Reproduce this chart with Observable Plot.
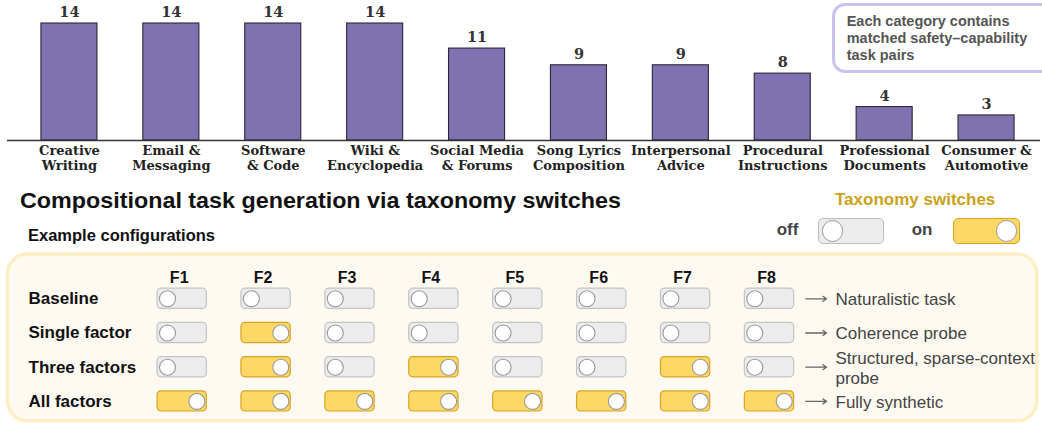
<!DOCTYPE html>
<html>
<head>
<meta charset="utf-8">
<script src="https://cdn.jsdelivr.net/npm/d3@7"></script>
<script src="https://cdn.jsdelivr.net/npm/@observablehq/plot@0.6"></script>
<style>
  html, body { margin: 0; padding: 0; background: #fff; }
  #root { position: relative; width: 1042px; height: 423px; overflow: hidden; font-family: "Liberation Sans", Arial, sans-serif; }
  .layer { position: absolute; left: 0; }
  .layer svg { display: block; background: transparent !important; }
  .t { position: absolute; white-space: nowrap; line-height: 1; font-weight: bold; }
  #note { position: absolute; left: 831.7px; top: 3.3px; width: 240px; height: 69.4px; box-sizing: border-box;
          border: 3.5px solid #cbc2f0; border-radius: 13px; background: #fff; }
  #noteText { position: absolute; left: 846.7px; top: 12.5px; font-size: 14.5px; line-height: 17.3px; color: #555; font-weight: bold; white-space: nowrap; }
  .tog { position: absolute; box-sizing: border-box; border-radius: 5px; }
  .knob { position: absolute; box-sizing: border-box; border-radius: 50%; background: #fff; border: 1.3px solid #999; }
</style>
</head>
<body>
<div id="root">
  <div id="bars" class="layer" style="top:0"></div>
  <div id="note"></div>
  <div id="noteText">Each category contains<br>matched safety–capability<br>task pairs</div>
  <div id="title" class="t" style="left:20px; top:190px; font-size:22px; color:#111;">Compositional task generation via taxonomy switches</div>
  <div id="sub" class="t" style="left:28px; top:227px; font-size:16.5px; color:#111;">Example configurations</div>
  <div id="legTitle" class="t" style="left:835px; top:191px; font-size:17px; color:#c9a219;">Taxonomy switches</div>
  <div class="t" style="left:776.7px; top:220.6px; font-size:17px; color:#444;">off</div>
  <div class="t" style="left:911.7px; top:220.6px; font-size:17px; color:#444;">on</div>
  <div class="tog" style="left:817.7px; top:217.7px; width:66.3px; height:26.3px; background:#ececec; border:1.5px solid #bdbdbd;"></div>
  <div class="knob" style="left:821.7px; top:220.2px; width:21.6px; height:21.6px;"></div>
  <div class="tog" style="left:953.3px; top:217.7px; width:66.7px; height:26.3px; background:#fdd866; border:1.5px solid #d6a526;"></div>
  <div class="knob" style="left:995.9px; top:220.2px; width:21.6px; height:21.6px;"></div>
  <div id="grid" class="layer" style="top:250px"></div>
</div>
<script>
// ---- Data: task categories (top bar chart) ----
const categories = [
  "Creative Writing", "Email & Messaging", "Software & Code", "Wiki & Encyclopedia",
  "Social Media & Forums", "Song Lyrics Composition", "Interpersonal Advice",
  "Procedural Instructions", "Professional Documents", "Consumer & Automotive"
];
const tickLabels = [
  "Creative\nWriting", "Email &\nMessaging", "Software\n& Code", "Wiki &\nEncyclopedia",
  "Social Media\n& Forums", "Song Lyrics\nComposition", "Interpersonal\nAdvice",
  "Procedural\nInstructions", "Professional\nDocuments", "Consumer &\nAutomotive"
];
const counts = [14, 14, 14, 14, 11, 9, 9, 8, 4, 3];

// ---- Data: taxonomy switch configurations ----
const factors = ["F1", "F2", "F3", "F4", "F5", "F6", "F7", "F8"];
const configurations = ["Baseline", "Single factor", "Three factors", "All factors"];
const switchStates = [
  [0, 0, 0, 0, 0, 0, 0, 0],
  [0, 1, 0, 0, 0, 0, 0, 0],
  [0, 1, 0, 1, 0, 0, 1, 0],
  [1, 1, 1, 1, 1, 1, 1, 1]
];
const outcomes = ["Naturalistic task", "Coherence probe", "Structured, sparse-context\nprobe", "Fully synthetic"];

const SANS = "Liberation Sans, Arial, sans-serif";
const SERIF = "DejaVu Serif, serif";

// ---- Bar chart ----
const barData = categories.map((c, i) => ({category: c, label: tickLabels[i], count: counts[i]}));
const bars = Plot.plot({
  width: 1042, height: 180,
  marginLeft: 7, marginRight: 2, marginTop: 23, marginBottom: 40,
  style: {background: "transparent", overflow: "visible"},
  x: {domain: categories, range: [18, 1037], paddingInner: 0.45, paddingOuter: 0.225, round: false},
  y: {domain: [0, 14], axis: null},
  marks: [
    Plot.barY(barData, {x: "category", y: "count", fill: "#8071b0", stroke: "#2a2637", strokeWidth: 1.1}),
    Plot.text(barData, {x: "category", y: "count", text: d => String(d.count), dy: -11,
      fontFamily: SERIF, fontWeight: "bold", fontSize: 14.5, fill: "#333"}),
    Plot.ruleY([0], {stroke: "#333", strokeWidth: 1.3}),
    Plot.axisX({anchor: "bottom", tickSize: 0, tickPadding: 5, label: null,
      tickFormat: d => tickLabels[categories.indexOf(d)],
      fontFamily: SERIF, fontWeight: "bold", fontSize: 13, lineHeight: 1.08, fill: "#222"})
  ]
});
document.getElementById("bars").append(bars);

// ---- Switch grid ----
const cells = [];
configurations.forEach((c, i) => factors.forEach((f, j) => cells.push({config: c, factor: f, on: switchStates[i][j] === 1})));
const offCells = cells.filter(d => !d.on);
const onCells = cells.filter(d => d.on);
const OUT = "outcome";
const lastFactor = factors[factors.length - 1];
const cellOpts = {x: "factor", y: "config", insetLeft: 17.3, insetRight: 17.3, insetTop: 7, insetBottom: 7, rx: 4, strokeWidth: 1.2};

const grid = Plot.plot({
  width: 1042, height: 173,
  marginLeft: 7, marginRight: 5.7, marginTop: 3.5, marginBottom: 2.7,
  style: {background: "transparent", fontFamily: SANS, overflow: "visible"},
  x: {type: "band", domain: [...factors, OUT], range: [139.75, 894.85], padding: 0, round: false, axis: null},
  y: {type: "band", domain: configurations, range: [31.2, 168], padding: 0, round: false, axis: null},
  marks: [
    Plot.frame({fill: "#fefaf1", stroke: "#fdeec4", strokeWidth: 3.5, rx: 20}),
    Plot.text(factors, {x: d => d, text: d => d, frameAnchor: "top", dy: 18, dx: -3,
      fontWeight: "bold", fontSize: 16, fill: "#111"}),
    Plot.text(configurations, {y: d => d, text: d => d, frameAnchor: "left", textAnchor: "start", dx: 21,
      fontWeight: "bold", fontSize: 17, fill: "#111"}),
    Plot.cell(offCells, {...cellOpts, fill: "#ececec", stroke: "#c3c3c3"}),
    Plot.cell(onCells, {...cellOpts, fill: "#fdd866", stroke: "#d6a526"}),
    Plot.dot(offCells, {x: "factor", y: "config", r: 8, dx: -14.7, fill: "white", stroke: "#999", strokeWidth: 1.1}),
    Plot.dot(onCells, {x: "factor", y: "config", r: 8, dx: 14.7, fill: "white", stroke: "#999", strokeWidth: 1.1}),
    Plot.arrow(configurations, {x1: () => lastFactor, x2: () => OUT, y1: d => d, y2: d => d,
      insetStart: 36.3, insetEnd: 26.9, headLength: 5, headAngle: 70, stroke: "#666", strokeWidth: 1.3}),
    Plot.text(configurations, {x: () => OUT, y: d => d, text: (d, i) => outcomes[i], textAnchor: "start", dx: -17.9,
      fontSize: 17, fill: "#444", lineHeight: 1.18})
  ]
});
document.getElementById("grid").append(grid);

// stretch the heading to the reference's measured width
function fitWidth(el, w) {
  const r = el.getBoundingClientRect().width;
  el.style.transformOrigin = "0 0";
  el.style.transform = `scaleX(${w / r})`;
}
fitWidth(document.getElementById("title"), 601);
</script>
</body>
</html>
